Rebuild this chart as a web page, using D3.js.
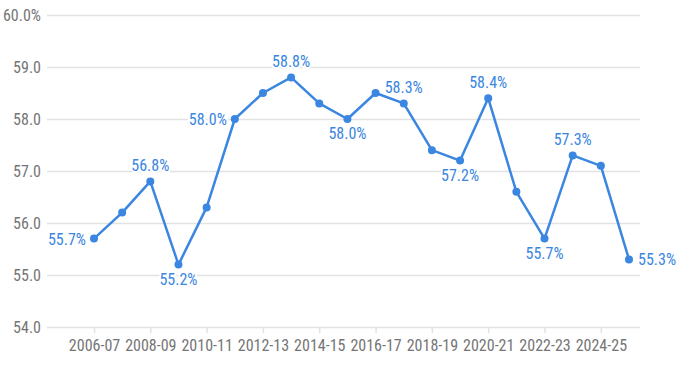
<!DOCTYPE html>
<html>
<head>
<meta charset="utf-8">
<script src="https://cdn.jsdelivr.net/npm/d3@7"></script>
<style>
  body { margin: 0; background: #fff; }
  svg { display: block; }
  svg text { font-family: "Liberation Sans Narrow", "Roboto Condensed", Roboto, sans-serif; }
</style>
</head>
<body>
<script>
const WIDTH = 680
const HEIGHT = 366

// Data
const years = ["2006-07", "2007-08", "2008-09", "2009-10", "2010-11", "2011-12", "2012-13",
  "2013-14", "2014-15", "2015-16", "2016-17", "2017-18", "2018-19", "2019-20", "2020-21",
  "2021-22", "2022-23", "2023-24", "2024-25", "2025-26"]
const values = [55.7, 56.2, 56.8, 55.2, 56.3, 58.0, 58.5, 58.8, 58.3, 58.0, 58.5, 58.3,
  57.4, 57.2, 58.4, 56.6, 55.7, 57.3, 57.1, 55.3]
const yTicks = [54, 55, 56, 57, 58, 59, 60]
// which points get a label, and where it sits
const labelPos = { "2006-07": "left", "2008-09": "top", "2009-10": "bottom", "2011-12": "left",
  "2013-14": "top", "2015-16": "bottom", "2017-18": "top", "2019-20": "bottom",
  "2020-21": "top", "2022-23": "bottom", "2023-24": "top", "2025-26": "right" }

const BLUE = "#3a86e0"
const GREY = "#757575"
const margin = { top: 15, right: 40, bottom: 39, left: 47 }

const x = d3.scalePoint()
  .domain(years)
  .range([94, 629])
const y = d3.scaleLinear()
  .domain([54, 60])
  .range([HEIGHT - margin.bottom, margin.top])

const svg = d3.select("body").append("svg")
  .attr("width", WIDTH)
  .attr("height", HEIGHT)

// Gridlines + y labels
const yAxis = svg.append("g")
  .attr("transform", `translate(${margin.left},0)`)
  .call(d3.axisLeft(y).tickValues(yTicks)
    .tickSize(-(WIDTH - margin.left - margin.right))
    .tickPadding(6)
    .tickFormat(d => d === 60 ? "60.0%" : d3.format(".1f")(d)))
yAxis.select(".domain").remove()
yAxis.selectAll(".tick line").attr("stroke", "#e2e2e2").attr("stroke-width", 1.5)
yAxis.selectAll(".tick text").attr("fill", GREY).attr("font-size", 16)

// X axis
const xAxis = svg.append("g")
  .attr("transform", `translate(0,${HEIGHT - margin.bottom})`)
  .call(d3.axisBottom(x).tickValues(years.filter((d, i) => i % 2 === 0))
    .tickSize(6).tickPadding(7).tickSizeOuter(0))
xAxis.select(".domain").remove()
xAxis.selectAll(".tick line").attr("stroke", "#e2e2e2").attr("stroke-width", 1.5)
xAxis.selectAll(".tick text").attr("fill", GREY).attr("font-size", 16)

// Line
const line = d3.line()
  .x((d, i) => x(years[i]))
  .y(d => y(d))

svg.append("path")
  .datum(values)
  .attr("fill", "none")
  .attr("stroke", BLUE)
  .attr("stroke-width", 2.5)
  .attr("stroke-linejoin", "round")
  .attr("d", line)

svg.append("g")
  .selectAll("circle")
  .data(values)
  .join("circle")
    .attr("cx", (d, i) => x(years[i]))
    .attr("cy", d => y(d))
    .attr("r", 4)
    .attr("fill", BLUE)

// Labels
const labelled = years.map((yr, i) => ({ yr, v: values[i], pos: labelPos[yr] })).filter(d => d.pos)
svg.append("g")
  .attr("font-size", 16)
  .selectAll("text")
  .data(labelled)
  .join("text")
    .attr("x", d => x(d.yr) + (d.pos === "left" ? -8 : d.pos === "right" ? 9 : 0))
    .attr("y", d => y(d.v) + (d.pos === "top" ? -10 : d.pos === "bottom" ? 20 : 6))
    .attr("text-anchor", d => d.pos === "left" ? "end" : d.pos === "right" ? "start" : "middle")
    .attr("fill", BLUE)
    .attr("stroke", "#fff")
    .attr("stroke-width", 4)
    .attr("paint-order", "stroke")
    .text(d => d3.format(".1f")(d.v) + "%")
</script>
</body>
</html>
